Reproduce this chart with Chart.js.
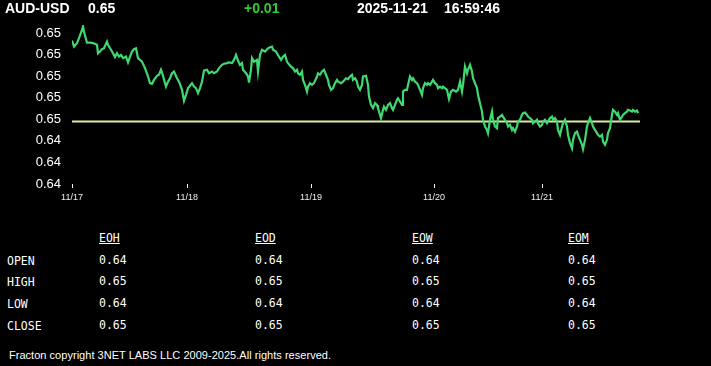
<!DOCTYPE html>
<html lang="en">
  <head>
    <meta charset="UTF-8" />
    <title>AUD-USD</title>
    <script src="https://cdn.jsdelivr.net/npm/chart.js"></script>
    <style>
      html, body { margin: 0; padding: 0; background: #000; }
      body { width: 711px; height: 366px; position: relative; overflow: hidden; color: #fff; }
      #chart { position: absolute; left: 0; top: 0; }
      .hd { position: absolute; top: 0; height: 18px; line-height: 18px; font: bold 14px "Liberation Sans", Arial, sans-serif; white-space: nowrap; }
      .tb { position: absolute; font: 11.5px "DejaVu Sans Mono", monospace; white-space: nowrap; line-height: 14px; }
      .tb.head { text-decoration: underline; }
      #foot { position: absolute; left: 9px; top: 348px; font: 11px "Liberation Sans", Arial, sans-serif; line-height: 14px; white-space: nowrap; letter-spacing: 0.03px; }
    </style>
  </head>
  <body>
    <canvas id="chart" width="711" height="215"></canvas>
    <div id="header"></div>
    <div id="table"></div>
    <div id="foot">Fracton copyright 3NET LABS LLC 2009-2025.All rights reserved.</div>
    <script>
      const symbol = "AUD-USD";
      const lastPrice = "0.65";
      const change = "+0.01";
      const quoteDate = "2025-11-21";
      const quoteTime = "16:59:46";

      // bar index (minute buckets from 11/17) and close price
      const bars = [
        0, 2, 5, 7, 10, 11, 12, 15, 18, 21, 25, 26, 28, 30, 32, 35, 36, 39, 41, 43,
        45, 47, 49, 51, 54, 56, 58, 60, 62, 64, 66, 68, 70, 73, 76, 78, 80, 82, 85, 87,
        89, 91, 94, 96, 98, 100, 102, 105, 107, 110, 112, 114, 116, 118, 120, 122, 124, 126, 128, 130,
        132, 135, 137, 140, 142, 145, 147, 150, 152, 155, 157, 160, 162, 164, 166, 168, 170, 171, 174, 176,
        177, 179, 180, 182, 185, 186, 188, 190, 193, 196, 198, 200, 201, 204, 206, 209, 211, 213, 215, 216,
        219, 221, 223, 225, 226, 228, 230, 231, 233, 235, 236, 238, 240, 242, 245, 246, 248, 250, 252, 254,
        256, 257, 259, 261, 263, 265, 266, 269, 271, 274, 276, 278, 280, 281, 283, 285, 286, 288, 290, 291,
        294, 296, 297, 299, 301, 303, 305, 306, 309, 311, 312, 314, 316, 318, 320, 321, 323, 325, 326, 328,
        330, 331, 333, 335, 336, 338, 340, 341, 343, 345, 346, 348, 350, 351, 353, 355, 356, 358, 360, 361,
        363, 365, 366, 368, 370, 371, 375, 377, 379, 381, 384, 386, 388, 390, 391, 393, 395, 396, 398, 400,
        401, 403, 405, 406, 408, 410, 411, 413, 415, 416, 418, 420, 421, 423, 425, 426, 428, 430, 431, 433,
        435, 436, 438, 440, 441, 443, 445, 446, 448, 450, 451, 453, 455, 456, 458, 460, 461, 463, 465, 466,
        468, 470, 471, 473, 475, 476, 478, 480, 481, 483, 485, 486, 488, 490, 491, 493, 495, 496, 498, 500,
        501, 503, 505, 506, 508, 510, 511, 513, 515, 516, 518, 520, 521, 523, 525, 526, 528, 530, 531, 533,
        535, 536, 538, 540, 541, 543, 545, 546, 548, 550, 551, 553, 555, 556, 558, 560, 561, 563, 565, 566
      ];
      const closes = [
        0.64866, 0.64838, 0.64854, 0.64877, 0.64915, 0.64931, 0.64907, 0.64856, 0.64856, 0.64854, 0.64846, 0.64807, 0.64815, 0.64826, 0.6483, 0.64861, 0.64846, 0.64823, 0.64807, 0.64789,
        0.64807, 0.64791, 0.64799, 0.64784, 0.64791, 0.64764, 0.64791, 0.64815, 0.64826, 0.6483, 0.64784, 0.64776, 0.64768, 0.64738, 0.64699, 0.64668, 0.64665, 0.64683, 0.64702, 0.64707,
        0.6473, 0.64702, 0.64652, 0.64675, 0.64691, 0.64714, 0.64722, 0.64691, 0.64675, 0.64637, 0.64586, 0.64614, 0.64645, 0.64656, 0.64668, 0.64652, 0.64645, 0.64622, 0.64645, 0.64675,
        0.64726, 0.6473, 0.64714, 0.64722, 0.64714, 0.64722, 0.64738, 0.64753, 0.64758, 0.64761, 0.64764, 0.64761, 0.64776, 0.64799, 0.64773, 0.64753, 0.64761, 0.6473, 0.64714, 0.64699,
        0.64671, 0.6473, 0.64784, 0.64768, 0.64776, 0.64722, 0.64799, 0.64823, 0.64815, 0.6483, 0.64835, 0.64838, 0.64823, 0.64815, 0.64799, 0.64776, 0.64791, 0.64799, 0.64768, 0.64761,
        0.64745, 0.64738, 0.64722, 0.6473, 0.64714, 0.64707, 0.64722, 0.64683, 0.6466, 0.64629, 0.64652, 0.64668, 0.6466, 0.64668, 0.64699, 0.64714, 0.64707, 0.64722, 0.6473, 0.64707,
        0.64683, 0.6466, 0.64637, 0.64645, 0.64668, 0.64683, 0.64675, 0.64668, 0.64675, 0.64691, 0.64687, 0.64699, 0.64707, 0.64683, 0.64691, 0.64675, 0.64652, 0.64637, 0.6466, 0.64699,
        0.64702, 0.6466, 0.64606, 0.64567, 0.64552, 0.64575, 0.64567, 0.64552, 0.64506, 0.64544, 0.64559, 0.64544, 0.64567, 0.64575, 0.64552, 0.64544, 0.64567, 0.64591, 0.64598, 0.64583,
        0.64567, 0.64629, 0.64637, 0.64637, 0.6466, 0.64699, 0.64683, 0.64691, 0.64675, 0.64668, 0.6466, 0.64637, 0.64614, 0.64645, 0.64668, 0.6466, 0.64668, 0.6466, 0.64675, 0.64683,
        0.64668, 0.6466, 0.64645, 0.64652, 0.64645, 0.64652, 0.64637, 0.64594, 0.64629, 0.64637, 0.64629, 0.64637, 0.64675, 0.64629, 0.6466, 0.64745, 0.64714, 0.6473, 0.64753, 0.64722,
        0.64691, 0.64668, 0.64645, 0.64614, 0.64575, 0.64536, 0.64498, 0.64467, 0.64451, 0.64436, 0.64498, 0.64536, 0.64498, 0.64467, 0.64459, 0.64506, 0.64513, 0.64521, 0.64513, 0.64498,
        0.64482, 0.64467, 0.64475, 0.64451, 0.64459, 0.64443, 0.64467, 0.6449, 0.64498, 0.64521, 0.64529, 0.64532, 0.64521, 0.64513, 0.64506, 0.64498, 0.64482, 0.6449, 0.64498, 0.64482,
        0.64467, 0.64475, 0.6449, 0.64498, 0.64482, 0.6449, 0.64506, 0.64513, 0.64498, 0.64506, 0.6449, 0.64451, 0.64428, 0.64467, 0.64482, 0.64498, 0.64467, 0.64428, 0.6439, 0.64366,
        0.64405, 0.64436, 0.64443, 0.64428, 0.64405, 0.64382, 0.64362, 0.64405, 0.64467, 0.64482, 0.64506, 0.64482, 0.64467, 0.64451, 0.64436, 0.64428, 0.6442, 0.64428, 0.64397, 0.64382,
        0.64405, 0.64436, 0.64459, 0.64521, 0.64544, 0.64536, 0.64521, 0.64529, 0.64498, 0.64513, 0.64521, 0.64529, 0.64536, 0.64544, 0.64541, 0.64536, 0.64544, 0.64536, 0.64541, 0.64529
      ];
      const refPrice = 0.6449;

      const dayTicks = [0, 115, 239, 362, 470];
      const dayLabels = ["11/17", "11/18", "11/19", "11/20", "11/21"];
      const yTicks = [0.642, 0.643, 0.644, 0.645, 0.646, 0.647, 0.648, 0.649];
      const yTickLabels = ["0.64", "0.64", "0.64", "0.65", "0.65", "0.65", "0.65", "0.65"];

      const columns = ["EOH", "EOD", "EOW", "EOM"];
      const rowLabels = ["OPEN", "HIGH", "LOW", "CLOSE"];
      const eoh = ["0.64", "0.65", "0.64", "0.65"];
      const eod = ["0.64", "0.65", "0.64", "0.65"];
      const eow = ["0.64", "0.65", "0.64", "0.65"];
      const eom = ["0.64", "0.65", "0.64", "0.65"];

      // header
      const header = document.getElementById("header");
      [
        [symbol, 5, "#fff"],
        [lastPrice, 88, "#fff"],
        [change, 244, "#3c3"],
        [quoteDate, 357, "#fff"],
        [quoteTime, 444, "#fff"],
      ].forEach(([text, left, color]) => {
        const d = document.createElement("div");
        d.className = "hd";
        d.style.left = left + "px";
        d.style.color = color;
        d.textContent = text;
        header.appendChild(d);
      });

      // table
      const table = document.getElementById("table");
      const colX = [99, 255, 412, 568];
      const rowY = [253, 274, 296, 318];
      const addCell = (text, left, top, cls) => {
        const d = document.createElement("div");
        d.className = "tb" + (cls ? " " + cls : "");
        d.style.left = left + "px";
        d.style.top = top + "px";
        d.textContent = text;
        table.appendChild(d);
      };
      columns.forEach((c, i) => addCell(c, colX[i], 231, "head"));
      rowLabels.forEach((r, j) => addCell(r, 7, rowY[j] + 1));
      [eoh, eod, eow, eom].forEach((col, i) => {
        col.forEach((v, j) => addCell(v, colX[i], rowY[j]));
      });

      const ctx = document.getElementById("chart").getContext("2d");
      new Chart(ctx, {
        type: "line",
        data: {
          datasets: [
            {
              data: bars.map((b, i) => ({ x: b, y: closes[i] })),
              borderColor: "#40d870",
              borderWidth: 2.2,
              pointRadius: 0,
              tension: 0,
            },
            {
              data: [{ x: 0, y: refPrice }, { x: 568, y: refPrice }],
              borderColor: "#dcec9c",
              borderWidth: 2,
              pointRadius: 0,
            },
          ],
        },
        options: {
          responsive: false,
          animation: false,
          devicePixelRatio: 1,
          layout: { padding: { top: 25, right: 71, left: 0, bottom: 0 } },
          plugins: { legend: { display: false }, tooltip: { enabled: false } },
          scales: {
            x: {
              type: "linear",
              min: 0,
              max: 568,
              border: { display: false },
              grid: { drawOnChartArea: false, drawTicks: true, tickLength: 4, color: "#eee" },
              afterBuildTicks: (scale) => {
                scale.ticks = dayTicks.map((v) => ({ value: v }));
              },
              afterFit: (scale) => {
                scale.height = 31;
              },
              ticks: {
                autoSkip: false,
                maxRotation: 0,
                padding: 4,
                color: "#eee",
                font: { family: "Liberation Sans", size: 9 },
                callback: (v) => dayLabels[dayTicks.indexOf(v)],
              },
            },
            y: {
              min: 0.642,
              max: 0.64938,
              border: { display: false },
              grid: { display: false, drawTicks: false },
              afterBuildTicks: (scale) => {
                scale.ticks = yTicks.map((v) => ({ value: v }));
              },
              afterFit: (scale) => {
                scale.width = 72;
              },
              ticks: {
                padding: 11,
                color: "#fff",
                font: { family: "Liberation Sans", size: 13 },
                callback: (v) => yTickLabels[yTicks.indexOf(v)],
              },
            },
          },
        },
      });
    </script>
  </body>
</html>
